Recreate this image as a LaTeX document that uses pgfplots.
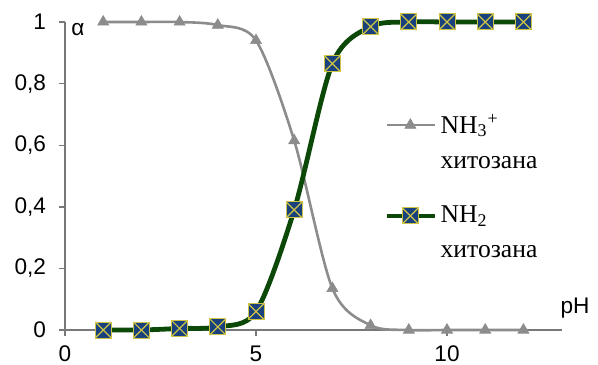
\documentclass[border=0pt]{standalone}
\usepackage{fontspec}
\setmainfont{Liberation Serif}
\newfontfamily\arial{Liberation Sans}
\usepackage{pgfplots}
\pgfplotsset{compat=1.18}
\definecolor{grayline}{RGB}{140,140,140}
\definecolor{greenline}{RGB}{12,72,8}
\definecolor{sqfill}{RGB}{25,65,125}
\definecolor{sqedge}{RGB}{205,195,70}
\definecolor{axisgray}{RGB}{120,120,120}
\pgfdeclareplotmark{sqx}{%
  \pgfpathrectangle{\pgfqpoint{-\pgfplotmarksize}{-\pgfplotmarksize}}{\pgfqpoint{2\pgfplotmarksize}{2\pgfplotmarksize}}%
  \pgfsetfillcolor{sqfill}\pgfsetstrokecolor{sqedge}\pgfsetlinewidth{0.5pt}%
  \pgfusepath{fill,stroke}%
  \pgfpathmoveto{\pgfqpoint{-\pgfplotmarksize}{-\pgfplotmarksize}}%
  \pgfpathlineto{\pgfqpoint{\pgfplotmarksize}{\pgfplotmarksize}}%
  \pgfpathmoveto{\pgfqpoint{-\pgfplotmarksize}{\pgfplotmarksize}}%
  \pgfpathlineto{\pgfqpoint{\pgfplotmarksize}{-\pgfplotmarksize}}%
  \pgfsetstrokecolor{sqedge}\pgfsetlinewidth{0.6pt}%
  \pgfusepath{stroke}%
}
\begin{document}
\begin{tikzpicture}
\begin{axis}[
  name=ax,
  x=19.1pt, y=154pt,
  xmin=0, xmax=13, ymin=0, ymax=1,
  axis lines=left,
  axis line style={-, axisgray, line width=0.7pt},
  xtick={0,5,10}, ytick={0,0.2,0.4,0.6,0.8,1},
  tick align=outside,
  major tick style={axisgray, line width=0.7pt},
  major tick length=3pt,
  tick label style={font=\arial\fontsize{11.3}{13}\selectfont},
  yticklabel style={xshift=-3pt},
  xticklabel style={yshift=-1.5pt},
  /pgf/number format/use comma,
  /pgf/number format/assume math mode=true,
  clip=false,
  legend cell align=left,
  legend style={at={(axis cs:8.2,0.728)}, anchor=north west, draw=none, fill=none,
    font=\fontsize{12.8}{14}\selectfont, row sep=6pt},
  legend image code/.code={%
    \draw[mark repeat=2,mark phase=2,#1] plot coordinates {(0cm,0cm)(0.41cm,0cm)(0.83cm,0cm)};},
]
\addplot[grayline, line width=1.3pt, smooth, mark=triangle*, mark size=3.2pt,
  mark options={fill=grayline, draw=grayline, line width=0.3pt}] coordinates {
  (1,1) (2,1) (3,1) (4,0.99) (5,0.94) (6,0.615) (7,0.135) (8,0.015)
  (9,0) (10,0) (11,0) (12,0)};
\addlegendentry{NH\textsubscript{3}\textsuperscript{+}}
\addlegendimage{empty legend}
\addlegendentry[text depth=9pt]{хитозана}
\addplot[greenline, line width=2.4pt, smooth, mark=sqx, mark size=4pt] coordinates {
  (1,0) (2,0) (3,0.005) (4,0.01) (5,0.06) (6,0.39) (7,0.865) (8,0.985)
  (9,1) (10,1) (11,1) (12,1)};
\addlegendentry{NH\textsubscript{2}}
\addlegendimage{empty legend}
\addlegendentry{хитозана}
\node[font=\arial\fontsize{11.3}{13}\selectfont] at (axis cs:0.34,0.975) {α};
\node[font=\arial\fontsize{11.3}{13}\selectfont] at (axis cs:13.35,0.072) {pH};
\end{axis}
\pgfresetboundingbox
\path ([shift={(-32.5pt,-17pt)}]ax.south west) rectangle ([shift={(266.5pt,165pt)}]ax.south west);
\end{tikzpicture}
\end{document}
